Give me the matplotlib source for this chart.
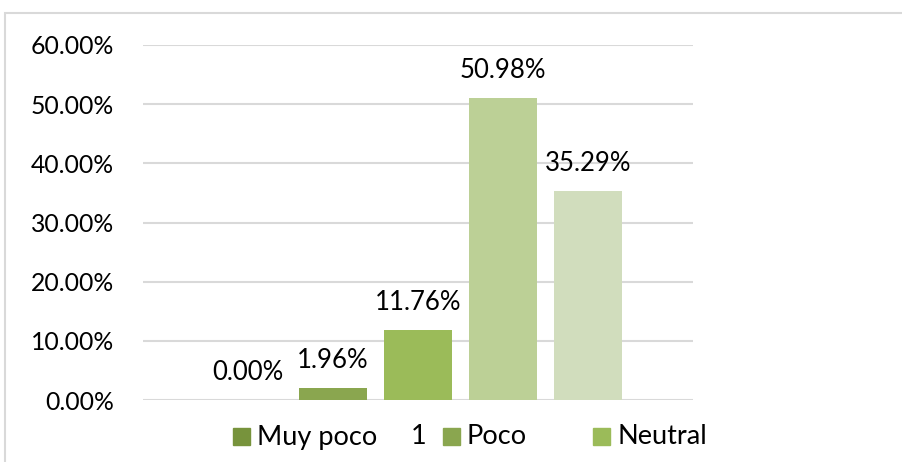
import matplotlib.pyplot as plt
from matplotlib.patches import Rectangle

# datos
valores = [0.00, 1.96, 11.76, 50.98, 35.29]
colores = ['#77933c', '#8aa64f', '#9bbb59', '#bcd096', '#d1ddbd']
leyenda = ['Muy poco', '1', 'Poco', 'Neutral']
colores_leyenda = ['#77933c', None, '#8aa64f', '#9bbb59']
yticks = [0, 10, 20, 30, 40, 50, 60]

plt.rcParams['font.family'] = ['Lato', 'DejaVu Sans']

W, H = 902, 462
fig = plt.figure(figsize=(W / 100, H / 100), dpi=100)
ax = fig.add_axes([143 / W, 62 / H, 550 / W, 355 / H])

x = list(range(len(valores)))
ax.bar(x, valores, width=0.79, color=colores, zorder=3)

for xi, v in zip(x, valores):
    ax.annotate('%.2f%%' % v, (xi, v), xytext=(0, 14.5), textcoords='offset points',
                ha='center', va='baseline', fontsize=18.5, color='#000000')

ax.set_xlim(-1.235, 5.235)
ax.set_ylim(0, 60)
ax.set_yticks(yticks)
ax.set_yticklabels(['%.2f%%' % t for t in yticks], fontsize=17.8)
ax.set_xticks([])
ax.tick_params(axis='y', length=0, pad=21)
ax.grid(axis='y', color='#d9d9d9', linewidth=1.5, zorder=0)
for s in ax.spines.values():
    s.set_visible(False)

# marco del gráfico
fig.patches.append(Rectangle((5 / W, -0.1), 1.1, (H - 13) / H + 0.1,
                             transform=fig.transFigure, fill=False,
                             edgecolor='#d9d9d9', linewidth=1.5))

# leyenda
pos_leyenda = [233, 393, 443, 593]
for px, txt, c in zip(pos_leyenda, leyenda, colores_leyenda):
    if c is not None:
        fig.patches.append(Rectangle((px / W, (H - 445) / H), 17 / W, 17 / H,
                                     transform=fig.transFigure, color=c))
    tx = px + 24 if c is not None else px + 18
    fig.text(tx / W, (H - 437) / H, txt, fontsize=19.5, va='center', ha='left')

fig.savefig('out.png', dpi=100)
